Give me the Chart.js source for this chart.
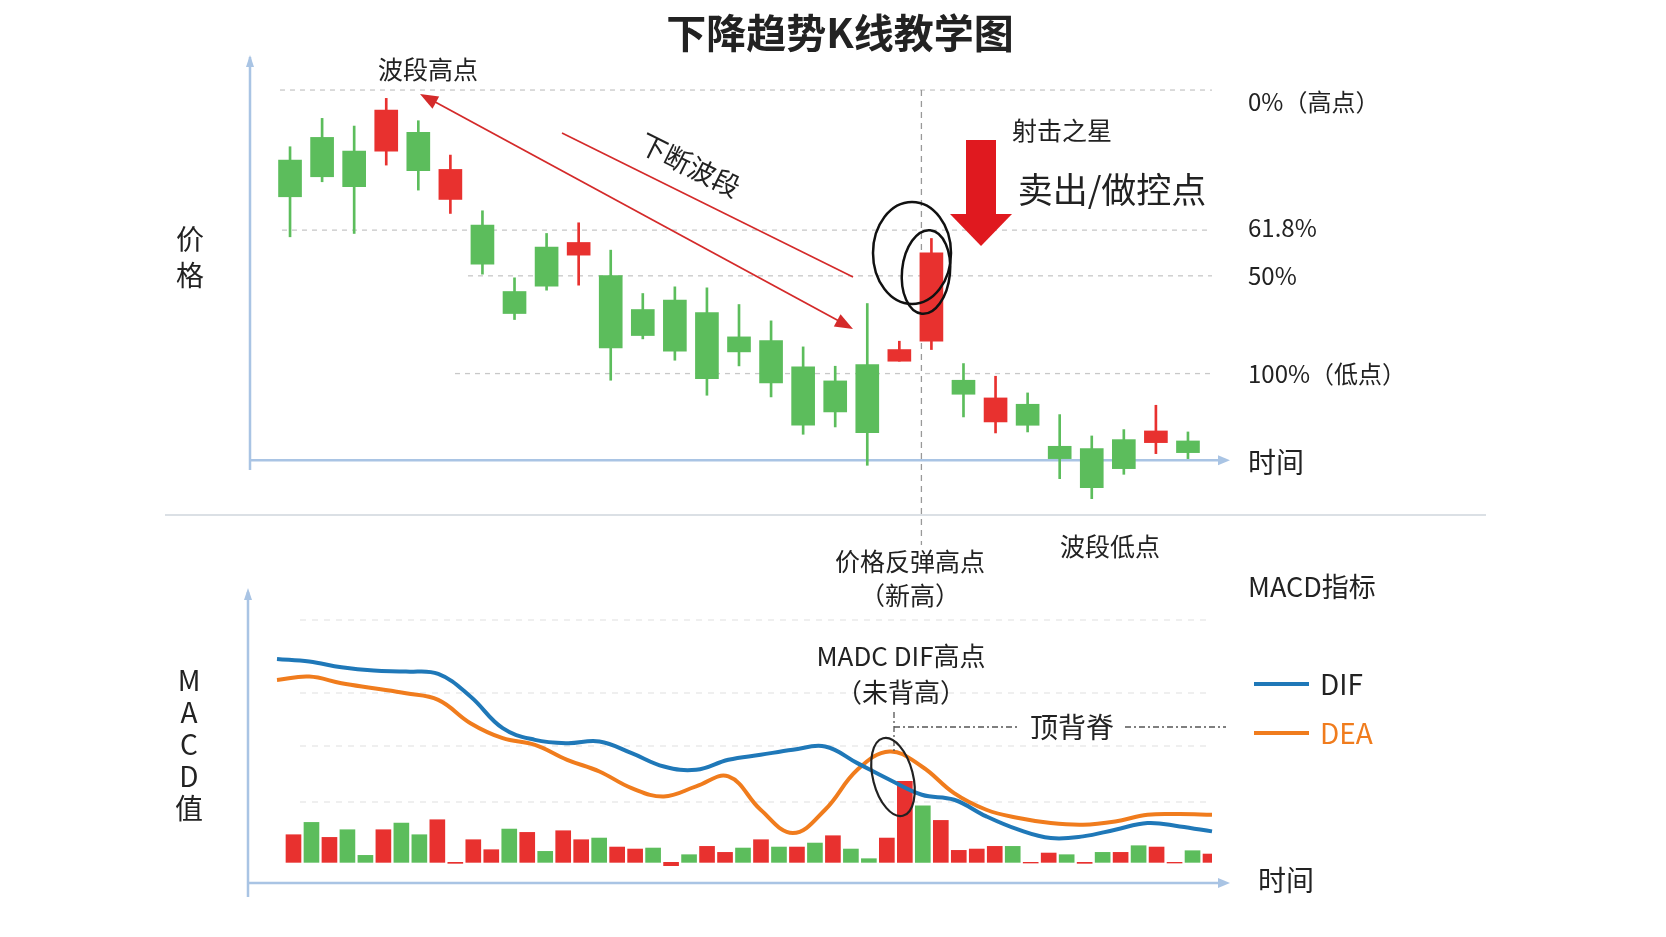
<!DOCTYPE html>
<html lang="zh">
<head>
<meta charset="UTF-8" />
<title>下降趋势K线教学图</title>
<script src="https://cdn.jsdelivr.net/npm/chart.js"></script>
<style>
  html, body { margin: 0; background: #fff; }
  canvas { position: absolute; left: 0; top: 0; }
</style>
</head>
<body>
<canvas id="kChart" width="1666" height="937"></canvas>
<canvas id="macdChart" width="1666" height="937"></canvas>
<script>
// candle data (open, close, high, low)
const opens  = [102, 108.8, 104.7, 104.7, 110.3, 90.2, 82.5, 62.6, 75.9, 73.5, 67.4, 57.2, 60, 56.3, 49, 47.9, 40, 35.8, 40.7, 41.7, 47.7, 36, 23.5, 28.8, 16.2, 15.5, 18.2, 17.3, 17.8];
const closes = [91, 97, 94, 117, 98.8, 99.2, 70.8, 56, 64.2, 77.3, 45.7, 49.4, 44.7, 36.5, 44.5, 35.2, 22.5, 26.5, 20.3, 45.2, 74.2, 31.8, 30.7, 22.5, 12.5, 3.8, 9.5, 20.8, 14.3];
const highs  = [106, 114.5, 112.2, 120.5, 113.8, 103.5, 86.8, 66.7, 80, 83.2, 75, 62, 64, 63.7, 58.7, 53.8, 46, 40.2, 59, 47.7, 78.5, 41, 37.2, 32.2, 25.7, 19.3, 21.2, 28.5, 20.5];
const lows   = [79, 95.5, 80, 100.5, 93, 86, 67.8, 54.2, 63, 64.5, 36, 48.4, 42, 31.5, 40.3, 31, 19.8, 22, 10.5, 41.7, 45.2, 25, 20.2, 20.5, 6.5, 0.5, 7.8, 14, 12.5];

// fibonacci levels
const levelNames  = ['0%（高点）', '61.8%', '50%', '100%（低点）'];
const levelValues = [123, 81, 67.3, 38];

// MACD
const difValues = [61.1, 60.3, 58.6, 57.6, 57.3, 56.6, 49.8, 40.3, 36.8, 35.8, 36.3, 32.8, 28.8, 27.8, 30.8, 32.3, 33.8, 34.8, 29.8, 24.8, 20.3, 18.8, 13.8, 9.8, 7.3, 7.8, 9.8, 11.8, 10.8, 9.3];
const deaValues = [54.8, 55.8, 53.8, 52.3, 50.8, 48.8, 41.8, 37.3, 35.3, 30.8, 27.3, 22.3, 19.8, 22.8, 25.8, 15.8, 8.8, 15.8, 27.8, 33.3, 28.8, 20.8, 15.8, 13.3, 11.8, 11.3, 12.3, 14.3, 14.5, 14.3];
const histValues = [8.3, 12, 7.5, 9.8, 2.1, 9.8, 11.8, 8.3, 12.8, -0.3, 6.8, 3.8, 10, 9, 3.3, 9.5, 6.8, 7.3, 4.6, 4, 4.3, -1, 2.3, 4.8, 3, 4.3, 6.8, 4.6, 4.6, 5.8, 8, 4, 1.1, 7.3, 24.3, 17, 12.6, 3.6, 4, 4.8, 4.8, -0.2, 2.8, 2.3, -0.3, 3, 3, 5, 4.6, -0.2, 3.5, 2.5];
const histColors = ['R','G','R','G','G','R','G','G','R','R','R','R','G','R','G','R','R','G','R','R','G','R','G','R','R','G','R','G','R','G','R','G','G','R','R','G','R','R','R','R','G','R','R','G','R','G','R','G','R','R','G','R'];

const RED = '#e8312f', GREEN = '#5cbd5c', AXIS = '#a9c4e4', TXT = '#222';
const FONT = '"Noto Sans CJK SC", "Noto Sans", sans-serif';
const cats = opens.map((_, i) => i + 1);
const candleColors = opens.map((o, i) => closes[i] > o ? RED : GREEN);

function text(ctx, s, x, y, size, opt = {}) {
  ctx.save();
  ctx.font = (opt.bold ? 'bold ' : '') + size + 'px ' + FONT;
  ctx.fillStyle = opt.color || TXT;
  ctx.textAlign = opt.align || 'left';
  ctx.textBaseline = 'middle';
  if (opt.rot) { ctx.translate(x, y); ctx.rotate(opt.rot); ctx.fillText(s, 0, 0); }
  else ctx.fillText(s, x, y);
  ctx.restore();
}
function line(ctx, x1, y1, x2, y2, color, w, dash) {
  ctx.save();
  ctx.strokeStyle = color; ctx.lineWidth = w; ctx.setLineDash(dash || []);
  ctx.beginPath(); ctx.moveTo(x1, y1); ctx.lineTo(x2, y2); ctx.stroke();
  ctx.restore();
}
function arrowHead(ctx, x1, y1, x2, y2, color, len, half) {
  const a = Math.atan2(y2 - y1, x2 - x1);
  ctx.save(); ctx.fillStyle = color; ctx.beginPath();
  ctx.moveTo(x2, y2);
  ctx.lineTo(x2 - len * Math.cos(a) + half * Math.sin(a), y2 - len * Math.sin(a) - half * Math.cos(a));
  ctx.lineTo(x2 - len * Math.cos(a) - half * Math.sin(a), y2 - len * Math.sin(a) + half * Math.cos(a));
  ctx.closePath(); ctx.fill(); ctx.restore();
}
function ellipse(ctx, x, y, rx, ry, rot, color, w) {
  ctx.save(); ctx.strokeStyle = color; ctx.lineWidth = w;
  ctx.beginPath(); ctx.ellipse(x, y, rx, ry, rot, 0, Math.PI * 2); ctx.stroke(); ctx.restore();
}

const kOverlay = {
  id: 'kOverlay',
  beforeDatasetsDraw(chart) {
    const ctx = chart.ctx, y = chart.scales.y, x = chart.scales.x;
    const starts = [280, 282, 468, 455];
    levelValues.forEach((v, i) => line(ctx, starts[i], y.getPixelForValue(v), 1212, y.getPixelForValue(v), '#c8c8c8', 1.3, [5, 5]));
    const vx = x.getPixelForValue(20) - 10;
    line(ctx, vx, y.getPixelForValue(123), vx, 545, '#999', 1.3, [6, 5]);
    // axes
    line(ctx, 250, 470, 250, 57, AXIS, 2.5);
    arrowHead(ctx, 250, 80, 250, 55, AXIS, 12, 4);
    line(ctx, 250, y.getPixelForValue(12), 1222, y.getPixelForValue(12), AXIS, 2.5);
    arrowHead(ctx, 1200, y.getPixelForValue(12), 1230, y.getPixelForValue(12), AXIS, 12, 5);
  },
  afterDraw(chart) {
    const ctx = chart.ctx, y = chart.scales.y;
    text(ctx, '下降趋势K线教学图', 840, 33, 40, { bold: true, align: 'center' });
    text(ctx, '波段高点', 428, 69, 25, { align: 'center' });
    text(ctx, '射击之星', 1062, 130, 25, { align: 'center' });
    text(ctx, '卖出/做控点', 1112, 190, 35, { align: 'center' });
    const offs = [12, -2, 0, 0];
    levelNames.forEach((n, i) => text(ctx, n, 1248, y.getPixelForValue(levelValues[i]) + offs[i], 24));
    text(ctx, '时间', 1248, 462, 28);
    text(ctx, '价', 190, 239, 28, { align: 'center' });
    text(ctx, '格', 190, 275, 28, { align: 'center' });
    line(ctx, 165, 515, 1486, 515, '#cfd6dc', 1.5);
    text(ctx, '价格反弹高点', 910, 561, 25, { align: 'center' });
    text(ctx, '（新高）', 910, 595, 25, { align: 'center' });
    text(ctx, '波段低点', 1110, 546, 25, { align: 'center' });
    text(ctx, 'MACD指标', 1248, 587, 27);
    // red arrows
    line(ctx, 426, 97, 850, 327, '#d42a2a', 1.8);
    arrowHead(ctx, 850, 327, 420, 94, '#d42a2a', 18, 7);
    arrowHead(ctx, 426, 97, 853, 329, '#d42a2a', 18, 7);
    line(ctx, 562, 133, 853, 277, '#d42a2a', 1.6);
    text(ctx, '下断波段', 690, 165, 27, { rot: 0.46, align: 'center' });
    // big down arrow
    ctx.save(); ctx.fillStyle = '#e0191f';
    ctx.fillRect(966, 140, 30, 76);
    ctx.beginPath(); ctx.moveTo(950, 214); ctx.lineTo(1012, 214); ctx.lineTo(981, 246); ctx.closePath(); ctx.fill();
    ctx.restore();
    ellipse(ctx, 912, 253, 39, 51, 0, '#111', 2.5);
    ellipse(ctx, 926, 272, 24, 42, 0.1, '#111', 2.5);
  }
};

new Chart(document.getElementById('kChart'), {
  type: 'bar',
  data: {
    labels: cats,
    datasets: [
      { data: cats.map((_, i) => [opens[i], closes[i]]), backgroundColor: candleColors, barThickness: 23, grouped: false, order: 1 },
      { data: cats.map((_, i) => [lows[i], highs[i]]), backgroundColor: candleColors, barThickness: 2, grouped: false, order: 2 }
    ]
  },
  options: {
    responsive: false, animation: false,
    layout: { padding: { left: 274, right: 462, top: 50, bottom: 430 } },
    plugins: { legend: { display: false }, tooltip: { enabled: false } },
    scales: {
      x: { display: false, offset: true },
      y: { display: false, min: -2, max: 135 }
    }
  },
  plugins: [kOverlay]
});

const macdOverlay = {
  id: 'macdOverlay',
  beforeDatasetsDraw(chart) {
    const ctx = chart.ctx;
    [620, 693, 746, 802].forEach(v => line(ctx, 300, v, 1212, v, '#e4e4e4', 1.2, [6, 6]));
    line(ctx, 248, 897, 248, 592, AXIS, 2.5);
    arrowHead(ctx, 248, 610, 248, 588, AXIS, 12, 4);
    line(ctx, 248, 883, 1222, 883, AXIS, 2.5);
    arrowHead(ctx, 1200, 883, 1230, 883, AXIS, 12, 5);
  },
  afterDraw(chart) {
    const ctx = chart.ctx;
    ['M', 'A', 'C', 'D', '值'].forEach((c, i) => text(ctx, c, 189, 680 + i * 32, 28, { align: 'center' }));
    text(ctx, 'MADC DIF高点', 901, 656, 26, { align: 'center' });
    text(ctx, '（未背高）', 901, 692, 26, { align: 'center' });
    line(ctx, 894, 712, 894, 752, '#555', 1.3, [6, 3, 2, 3]);
    line(ctx, 894, 727, 1018, 727, '#555', 1.3, [6, 3, 2, 3]);
    line(ctx, 1125, 727, 1226, 727, '#555', 1.3, [6, 3, 2, 3]);
    text(ctx, '顶背脊', 1072, 727, 28, { align: 'center' });
    ellipse(ctx, 893, 777, 20, 40, -0.25, '#222', 2.2);
    line(ctx, 1254, 684, 1309, 684, '#1f78b8', 4);
    text(ctx, 'DIF', 1320, 684, 28);
    line(ctx, 1254, 733, 1309, 733, '#f07c1d', 4);
    text(ctx, 'DEA', 1320, 733, 28, { color: '#f07c1d' });
    text(ctx, '时间', 1286, 880, 28, { align: 'center' });
  }
};

new Chart(document.getElementById('macdChart'), {
  data: {
    labels: difValues.map((_, i) => i),
    datasets: [
      { type: 'line', data: difValues, borderColor: '#1f78b8', borderWidth: 4, pointRadius: 0, tension: 0.4, xAxisID: 'x', order: 1 },
      { type: 'line', data: deaValues, borderColor: '#f07c1d', borderWidth: 4, pointRadius: 0, tension: 0.4, xAxisID: 'x', order: 2 },
      { type: 'bar', data: histValues, backgroundColor: histColors.map(c => c === 'R' ? RED : GREEN), barThickness: 15, xAxisID: 'x2', order: 3 }
    ]
  },
  options: {
    responsive: false, animation: false,
    layout: { padding: { left: 277, right: 454, top: 590, bottom: 54 } },
    plugins: { legend: { display: false }, tooltip: { enabled: false } },
    scales: {
      x: { display: false, offset: false },
      x2: { display: false, type: 'category', labels: histValues.map((_, i) => i), offset: true },
      y: { display: false, min: -6.2, max: 81.8 }
    }
  },
  plugins: [macdOverlay]
});
</script>
</body>
</html>
